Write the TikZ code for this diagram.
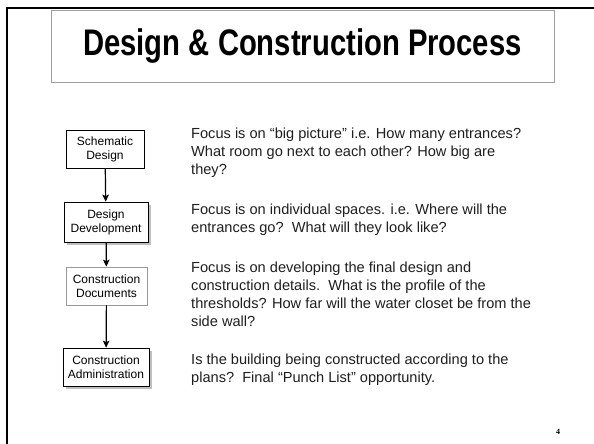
\documentclass[tikz,border=0pt]{standalone}
\usepackage{fontspec}
\setmainfont{Liberation Sans}
\newfontfamily\pgserif{Liberation Serif}
\usetikzlibrary{arrows.meta,shadows}
\tikzset{
  stepbox/.style={draw=black, line width=0.7pt, fill=white, align=center, inner sep=1pt,
    font=\fontsize{12}{14}\selectfont, minimum height=38pt},
  shadowbox/.style={stepbox, drop shadow={shadow xshift=2.5pt, shadow yshift=-2.5pt, fill=gray!50, opacity=1}},
  arr/.style={line width=1.2pt, -{Stealth[length=7pt,width=6.5pt,inset=1.5pt]}},
  bodyline/.style={anchor=base west, inner sep=0pt, text=black!88, font=\fontsize{14.6}{18}\selectfont},
}
\begin{document}
\begin{tikzpicture}[x=1pt,y=-1pt]
\useasboundingbox (0,0) rectangle (594,444);
\fill[white] (0,0) rectangle (594,444);
% outer frame
\draw[line width=2pt] (596,8) -- (7,8) -- (7,446);
% title box
\node[draw=gray!75, line width=0.8pt, minimum width=503pt, minimum height=72pt, inner sep=0pt]
  (title) at (302.5,46) {\scalebox{0.79}[1]{\fontsize{37}{40}\selectfont\bfseries Design \& Construction Process}};
% step boxes
\node[stepbox, minimum width=78pt] (b1) at (105,149) {Schematic\\Design};
\node[shadowbox, minimum width=84pt, minimum height=40pt] (b2) at (106,222) {Design\\Development};
\node[stepbox, draw=gray!80, minimum width=81pt] (b3) at (106.5,286) {Construction\\Documents};
\node[shadowbox, minimum width=86pt] (b4) at (106,367) {Construction\\Administration};
\draw[arr] (b1) -- (b2);
\draw[arr] (b2) -- (b3);
\draw[arr] (b3) -- (b4);
% descriptions
\node[bodyline] (p1a) at (191,138) {Focus is on “big picture” i.e. How many entrances?};
\node[bodyline] (p1b) at (191,156) {What room go next to each other? How big are};
\node[bodyline] (p1c) at (191,174) {they?};
\node[bodyline] (p2a) at (191,214) {Focus is on individual spaces. i.e. Where will the};
\node[bodyline] (p2b) at (191,232) {entrances go?\ \ What will they look like?};
\node[bodyline] (p3a) at (191,272) {Focus is on developing the final design and};
\node[bodyline] (p3b) at (191,290) {construction details.\ \ What is the profile of the};
\node[bodyline] (p3c) at (191,308) {thresholds? How far will the water closet be from the};
\node[bodyline] (p3d) at (191,326) {side wall?};
\node[bodyline] (p4a) at (191,364) {Is the building being constructed according to the};
\node[bodyline] (p4b) at (191,382) {plans?\ \ Final “Punch List” opportunity.};
% page number
\node[font=\pgserif\bfseries\fontsize{8}{8}\selectfont, inner sep=0pt] (pg) at (558,432) {4};
\end{tikzpicture}
\end{document}
